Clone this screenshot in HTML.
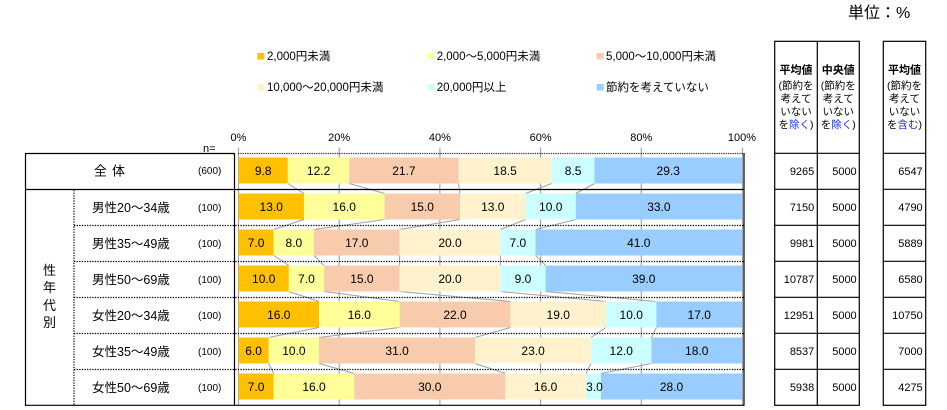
<!DOCTYPE html>
<html><head><meta charset="utf-8"><style>
html,body{margin:0;padding:0;background:#fff;}
svg{display:block;}
text{font-family:"Liberation Sans","Noto Sans CJK JP",sans-serif;fill:#000;}
</style></head><body>
<svg width="947" height="410" viewBox="0 0 947 410" xmlns="http://www.w3.org/2000/svg">
<!-- unit -->
<text x="848" y="18" font-size="16">単位：%</text>

<!-- legend -->
<g font-size="11.5" fill="#222">
<rect x="257.3" y="53" width="7" height="6.5" fill="#FFC000"/><text x="267" y="60">2,000円未満</text>
<rect x="427.3" y="53" width="7" height="6.5" fill="#FFFF99"/><text x="436.7" y="60">2,000～5,000円未満</text>
<rect x="596.7" y="53" width="7" height="6.5" fill="#F8CBAD"/><text x="606" y="60">5,000～10,000円未満</text>
<rect x="257.3" y="84" width="7" height="6.5" fill="#FFF2CC"/><text x="267" y="91">10,000～20,000円未満</text>
<rect x="427.3" y="84" width="7" height="6.5" fill="#CCFFFF"/><text x="436.7" y="91">20,000円以上</text>
<rect x="596.7" y="84" width="7" height="6.5" fill="#99CCFF"/><text x="606" y="91">節約を考えていない</text>
</g>

<!-- axis labels -->
<g font-size="11" text-anchor="middle">
<text x="238.5" y="141">0%</text>
<text x="339.2" y="141">20%</text>
<text x="439.9" y="141">40%</text>
<text x="540.6" y="141">60%</text>
<text x="641.3" y="141">80%</text>
<text x="742" y="141">100%</text>
</g>
<text x="203" y="152" font-size="11">n=</text>

<!-- gridlines -->
<g stroke="#A6A6A6" stroke-width="1.2">
<line x1="238.5" y1="147.5" x2="238.5" y2="405"/>
<line x1="339.2" y1="147.5" x2="339.2" y2="405"/>
<line x1="439.9" y1="147.5" x2="439.9" y2="405"/>
<line x1="540.6" y1="147.5" x2="540.6" y2="405"/>
<line x1="641.3" y1="147.5" x2="641.3" y2="405"/>
<line x1="742.5" y1="147.5" x2="742.5" y2="405"/>
</g>

<!-- series lines -->
<g stroke="#A0A0A0" stroke-width="1" fill="none">
<line x1="287.84" y1="183.5" x2="303.96" y2="193.5"/>
<line x1="349.27" y1="183.5" x2="384.52" y2="193.5"/>
<line x1="458.53" y1="183.5" x2="460.04" y2="193.5"/>
<line x1="551.68" y1="183.5" x2="525.5" y2="193.5"/>
<line x1="594.47" y1="183.5" x2="575.85" y2="193.5"/>

<line x1="303.96" y1="219.5" x2="273.75" y2="229.5"/>
<line x1="384.52" y1="219.5" x2="314.03" y2="229.5"/>
<line x1="460.04" y1="219.5" x2="399.62" y2="229.5"/>
<line x1="525.5" y1="219.5" x2="500.32" y2="229.5"/>
<line x1="575.85" y1="219.5" x2="535.57" y2="229.5"/>

<line x1="273.75" y1="255.5" x2="288.85" y2="265.5"/>
<line x1="314.03" y1="255.5" x2="324.1" y2="265.5"/>
<line x1="399.62" y1="255.5" x2="399.62" y2="265.5"/>
<line x1="500.32" y1="255.5" x2="500.32" y2="265.5"/>
<line x1="535.57" y1="255.5" x2="545.64" y2="265.5"/>

<line x1="288.85" y1="291.5" x2="319.06" y2="301.5"/>
<line x1="324.1" y1="291.5" x2="399.62" y2="301.5"/>
<line x1="399.62" y1="291.5" x2="510.39" y2="301.5"/>
<line x1="500.32" y1="291.5" x2="606.05" y2="301.5"/>
<line x1="545.64" y1="291.5" x2="656.4" y2="301.5"/>

<line x1="319.06" y1="327.5" x2="268.71" y2="337.5"/>
<line x1="399.62" y1="327.5" x2="319.06" y2="337.5"/>
<line x1="510.39" y1="327.5" x2="475.15" y2="337.5"/>
<line x1="606.05" y1="327.5" x2="590.95" y2="337.5"/>
<line x1="656.4" y1="327.5" x2="651.37" y2="337.5"/>

<line x1="268.71" y1="363.5" x2="273.75" y2="373.5"/>
<line x1="319.06" y1="363.5" x2="354.31" y2="373.5"/>
<line x1="475.15" y1="363.5" x2="505.36" y2="373.5"/>
<line x1="590.95" y1="363.5" x2="585.92" y2="373.5"/>
<line x1="651.37" y1="363.5" x2="601.02" y2="373.5"/>
</g>

<!-- bars -->
<!-- row 0 -->
<g>
<rect x="238.5" y="157.5" width="49.34" height="26" fill="#FFC000"/>
<rect x="287.84" y="157.5" width="61.43" height="26" fill="#FFFF99"/>
<rect x="349.27" y="157.5" width="109.26" height="26" fill="#F8CBAD"/>
<rect x="458.53" y="157.5" width="93.15" height="26" fill="#FFF2CC"/>
<rect x="551.68" y="157.5" width="42.79" height="26" fill="#CCFFFF"/>
<rect x="594.47" y="157.5" width="147.53" height="26" fill="#99CCFF"/>
</g>
<g>
<rect x="238.5" y="193.5" width="65.46" height="26" fill="#FFC000"/>
<rect x="303.96" y="193.5" width="80.56" height="26" fill="#FFFF99"/>
<rect x="384.52" y="193.5" width="75.52" height="26" fill="#F8CBAD"/>
<rect x="460.04" y="193.5" width="65.46" height="26" fill="#FFF2CC"/>
<rect x="525.5" y="193.5" width="50.35" height="26" fill="#CCFFFF"/>
<rect x="575.85" y="193.5" width="166.15" height="26" fill="#99CCFF"/>
</g>
<g>
<rect x="238.5" y="229.5" width="35.25" height="26" fill="#FFC000"/>
<rect x="273.75" y="229.5" width="40.28" height="26" fill="#FFFF99"/>
<rect x="314.03" y="229.5" width="85.59" height="26" fill="#F8CBAD"/>
<rect x="399.62" y="229.5" width="100.7" height="26" fill="#FFF2CC"/>
<rect x="500.32" y="229.5" width="35.25" height="26" fill="#CCFFFF"/>
<rect x="535.57" y="229.5" width="206.43" height="26" fill="#99CCFF"/>
</g>
<g>
<rect x="238.5" y="265.5" width="50.35" height="26" fill="#FFC000"/>
<rect x="288.85" y="265.5" width="35.25" height="26" fill="#FFFF99"/>
<rect x="324.1" y="265.5" width="75.52" height="26" fill="#F8CBAD"/>
<rect x="399.62" y="265.5" width="100.7" height="26" fill="#FFF2CC"/>
<rect x="500.32" y="265.5" width="45.32" height="26" fill="#CCFFFF"/>
<rect x="545.64" y="265.5" width="196.36" height="26" fill="#99CCFF"/>
</g>
<g>
<rect x="238.5" y="301.5" width="80.56" height="26" fill="#FFC000"/>
<rect x="319.06" y="301.5" width="80.56" height="26" fill="#FFFF99"/>
<rect x="399.62" y="301.5" width="110.77" height="26" fill="#F8CBAD"/>
<rect x="510.39" y="301.5" width="95.66" height="26" fill="#FFF2CC"/>
<rect x="606.05" y="301.5" width="50.35" height="26" fill="#CCFFFF"/>
<rect x="656.4" y="301.5" width="85.6" height="26" fill="#99CCFF"/>
</g>
<g>
<rect x="238.5" y="337.5" width="30.21" height="26" fill="#FFC000"/>
<rect x="268.71" y="337.5" width="50.35" height="26" fill="#FFFF99"/>
<rect x="319.06" y="337.5" width="156.09" height="26" fill="#F8CBAD"/>
<rect x="475.15" y="337.5" width="115.8" height="26" fill="#FFF2CC"/>
<rect x="590.95" y="337.5" width="60.42" height="26" fill="#CCFFFF"/>
<rect x="651.37" y="337.5" width="90.63" height="26" fill="#99CCFF"/>
</g>
<g>
<rect x="238.5" y="373.5" width="35.25" height="26" fill="#FFC000"/>
<rect x="273.75" y="373.5" width="80.56" height="26" fill="#FFFF99"/>
<rect x="354.31" y="373.5" width="151.05" height="26" fill="#F8CBAD"/>
<rect x="505.36" y="373.5" width="80.56" height="26" fill="#FFF2CC"/>
<rect x="585.92" y="373.5" width="15.1" height="26" fill="#CCFFFF"/>
<rect x="601.02" y="373.5" width="140.98" height="26" fill="#99CCFF"/>
</g>

<!-- data labels -->
<g font-size="12" text-anchor="middle">
<text x="263.2" y="175">9.8</text><text x="318.6" y="175">12.2</text><text x="403.9" y="175">21.7</text><text x="505.1" y="175">18.5</text><text x="573.1" y="175">8.5</text><text x="668.2" y="175">29.3</text>
<text x="271.2" y="211">13.0</text><text x="344.2" y="211">16.0</text><text x="422.3" y="211">15.0</text><text x="492.8" y="211">13.0</text><text x="550.7" y="211">10.0</text><text x="658.9" y="211">33.0</text>
<text x="256.1" y="247">7.0</text><text x="293.9" y="247">8.0</text><text x="356.8" y="247">17.0</text><text x="450" y="247">20.0</text><text x="517.9" y="247">7.0</text><text x="638.8" y="247">41.0</text>
<text x="263.7" y="283">10.0</text><text x="306.5" y="283">7.0</text><text x="361.9" y="283">15.0</text><text x="450" y="283">20.0</text><text x="523" y="283">9.0</text><text x="643.8" y="283">39.0</text>
<text x="278.8" y="319">16.0</text><text x="359.3" y="319">16.0</text><text x="455" y="319">22.0</text><text x="558.2" y="319">19.0</text><text x="631.2" y="319">10.0</text><text x="699.2" y="319">17.0</text>
<text x="253.6" y="355">6.0</text><text x="293.9" y="355">10.0</text><text x="397.1" y="355">31.0</text><text x="533.1" y="355">23.0</text><text x="621.2" y="355">12.0</text><text x="696.7" y="355">18.0</text>
<text x="256.1" y="391">7.0</text><text x="314" y="391">16.0</text><text x="429.8" y="391">30.0</text><text x="545.6" y="391">16.0</text><text x="594.5" y="391">3.0</text><text x="671.5" y="391">28.0</text>
</g>

<!-- left table lines -->
<g stroke="#000" stroke-width="1.2" fill="none">
<line x1="25" y1="153.5" x2="234.5" y2="153.5"/>
<line x1="25" y1="189.5" x2="744" y2="189.5"/>
<line x1="25" y1="405.3" x2="744" y2="405.3"/>
<line x1="25.5" y1="153" x2="25.5" y2="405.8"/>
<line x1="234.5" y1="153" x2="234.5" y2="405.8"/>
<line x1="744" y1="153" x2="744" y2="405.8"/>
</g>
<line x1="238" y1="153.5" x2="744" y2="153.5" stroke="#333" stroke-width="1.2" stroke-dasharray="1.3,1"/>
<g stroke="#000" stroke-width="1.2" stroke-dasharray="1.3,1.3" fill="none">
<line x1="74" y1="190" x2="74" y2="405"/>
<line x1="74" y1="225.5" x2="744" y2="225.5"/>
<line x1="74" y1="261.5" x2="744" y2="261.5"/>
<line x1="74" y1="297.5" x2="744" y2="297.5"/>
<line x1="74" y1="333.5" x2="744" y2="333.5"/>
<line x1="74" y1="369.5" x2="744" y2="369.5"/>
</g>

<!-- row labels -->
<g font-size="13">
<text x="94" y="175.5">全</text><text x="112" y="175.5">体</text>
</g>
<g font-size="12.5">
<text x="92" y="212">男性20～34歳</text>
<text x="92" y="248">男性35～49歳</text>
<text x="92" y="284">男性50～69歳</text>
<text x="92" y="320">女性20～34歳</text>
<text x="92" y="356">女性35～49歳</text>
<text x="92" y="392">女性50～69歳</text>
</g>
<g font-size="13" text-anchor="middle">
<text x="49.5" y="275">性</text>
<text x="49.5" y="292">年</text>
<text x="49.5" y="310">代</text>
<text x="49.5" y="327">別</text>
</g>
<g font-size="10" style="fill:#1a2a5a">
<text x="198" y="174">(600)</text>
<text x="198" y="211">(100)</text>
<text x="198" y="247">(100)</text>
<text x="198" y="283">(100)</text>
<text x="198" y="319">(100)</text>
<text x="198" y="355">(100)</text>
<text x="198" y="391">(100)</text>
</g>

<!-- right tables -->
<g stroke="#000" stroke-width="1.2" fill="none">
<rect x="774.7" y="41.3" width="84.6" height="364"/>
<line x1="817.3" y1="41.3" x2="817.3" y2="405.3"/>
<rect x="883.3" y="41.3" width="42.4" height="364"/>
<line x1="774.7" y1="153.3" x2="859.3" y2="153.3"/>
<line x1="774.7" y1="189.3" x2="859.3" y2="189.3"/>
<line x1="774.7" y1="225.3" x2="859.3" y2="225.3"/>
<line x1="774.7" y1="261.3" x2="859.3" y2="261.3"/>
<line x1="774.7" y1="297.3" x2="859.3" y2="297.3"/>
<line x1="774.7" y1="333.3" x2="859.3" y2="333.3"/>
<line x1="774.7" y1="369.3" x2="859.3" y2="369.3"/>
<line x1="883.3" y1="153.3" x2="925.7" y2="153.3"/>
<line x1="883.3" y1="189.3" x2="925.7" y2="189.3"/>
<line x1="883.3" y1="225.3" x2="925.7" y2="225.3"/>
<line x1="883.3" y1="261.3" x2="925.7" y2="261.3"/>
<line x1="883.3" y1="297.3" x2="925.7" y2="297.3"/>
<line x1="883.3" y1="333.3" x2="925.7" y2="333.3"/>
<line x1="883.3" y1="369.3" x2="925.7" y2="369.3"/>
</g>

<!-- right header -->
<g font-size="10.5" text-anchor="middle">
<text x="796" y="73.5" font-weight="bold" font-size="11">平均値</text>
<text x="796" y="89">(節約を</text>
<text x="796" y="102">考えて</text>
<text x="796" y="115">いない</text>
<text x="796" y="128">を<tspan style="fill:#1030e0">除く</tspan>)</text>

<text x="838.3" y="73.5" font-weight="bold" font-size="11">中央値</text>
<text x="838.3" y="89">(節約を</text>
<text x="838.3" y="102">考えて</text>
<text x="838.3" y="115">いない</text>
<text x="838.3" y="128">を<tspan style="fill:#1030e0">除く</tspan>)</text>

<text x="904.5" y="73.5" font-weight="bold" font-size="11">平均値</text>
<text x="904.5" y="89">(節約を</text>
<text x="904.5" y="102">考えて</text>
<text x="904.5" y="115">いない</text>
<text x="904.5" y="128">を<tspan style="fill:#1030e0">含む</tspan>)</text>
</g>

<!-- right values -->
<g font-size="11" text-anchor="end">
<text x="814.3" y="175">9265</text><text x="856.7" y="175">5000</text><text x="922.7" y="175">6547</text>
<text x="814.3" y="211">7150</text><text x="856.7" y="211">5000</text><text x="922.7" y="211">4790</text>
<text x="814.3" y="247">9981</text><text x="856.7" y="247">5000</text><text x="922.7" y="247">5889</text>
<text x="814.3" y="283">10787</text><text x="856.7" y="283">5000</text><text x="922.7" y="283">6580</text>
<text x="814.3" y="319">12951</text><text x="856.7" y="319">5000</text><text x="922.7" y="319">10750</text>
<text x="814.3" y="355">8537</text><text x="856.7" y="355">5000</text><text x="922.7" y="355">7000</text>
<text x="814.3" y="391">5938</text><text x="856.7" y="391">5000</text><text x="922.7" y="391">4275</text>
</g>
</svg>
</body></html>
